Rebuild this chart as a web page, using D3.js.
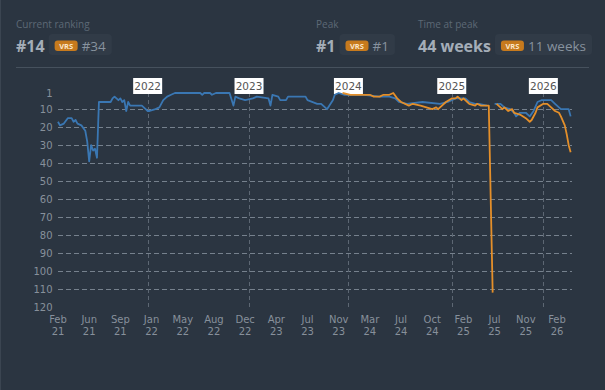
<!DOCTYPE html>
<html>
<head>
<meta charset="utf-8">
<script src="https://cdn.jsdelivr.net/npm/d3@7"></script>
<style>
  html, body { margin: 0; padding: 0; background: #2b3541; }
  svg { display: block; }
</style>
</head>
<body>
<svg id="chart" width="605" height="390"></svg>
<script>
// weekly index (0 = Feb 21) -> rank, null = no data
var blueSeries = [
  [0,17],[1,19],[3,18],[5,15],[7,15],[8,17],[9,16],[10,18],[12,19],[14,22],[15,28],[16,39],[17,30],
  [18,33],[19,32],[20,37],[21,6],[27,6],[28,4],[29,3],[30,4],[31,5],[32,4],[33,6],[34,5],[35,11],
  [36,6],[37,8],[43,8],[45,10],[46,11],[47,11],[50,10],[52,9],[54,5],[56,3],[58,2],[60,1],[73,1],
  [74,2],[75,1],[78,1],[79,2],[81,1],[88,1],[90,8],[91,3],[93,4],[96,5],[100,4],[102,3],[108,4],
  [109,8],[110,2],[113,3],[114,5],[117,5],[118,3],[127,3],[128,5],[133,7],[135,7],[138,10],[141,5],
  [142,2],[144,1],[147,2],[152,2],[157,2],[165,3],[170,3],[173,4],[175,6],[179,7],[187,6],[196,7],
  [200,6],[204,4],[206,4],[209,4],[211,6],[214,7],[216,7],[220,8],[222,null],[224,7],[227,7],[229,9],
  [232,10],[234,12],[235,14],[237,12],[240,12],[242,14],[244,11],[246,6],[248,5],[253,5],[255,7],
  [258,10],[262,10],[263,14]
];
var vrsSeries = [
  [146,1],[150,2],[155,2],[160,2],[162,3],[165,3],[167,2],[170,2],[172,1],[174,4],[176,6],[180,8],
  [182,7],[186,8],[189,9],[192,10],[194,9],[195,10],[197,8],[199,6],[202,4],[204,4],[205,3],[207,5],
  [208,4],[210,6],[211,7],[214,8],[215,7],[217,8],[221,8],[223,112],[224,null],[225,7],[226,8],
  [228,10],[229,9],[231,11],[233,10],[234,12],[237,13],[240,15],[242,17],[243,16],[245,12],[246,9],
  [249,7],[251,7],[253,9],[255,11],[257,12],[258,14],[260,19],[261,24],[262,30],[263,34]
];

var tickWeeks = [0,16,32,48,64,80,96,112,128,144,160,176,192,208,224,240,256];
var tickMonths = ['Feb','Jun','Sep','Jan','May','Aug','Dec','Apr','Jul','Nov','Mar','Jul','Oct','Feb','Jul','Nov','Feb'];
var tickYears = ['21','21','21','22','22','22','22','23','23','23','24','24','24','25','25','25','26'];
var yearWeeks = [46, 98, 149, 202, 249];
var yearLabels = ['2022','2023','2024','2025','2026'];
var rankTicks = [1,10,20,30,40,50,60,70,80,90,100,110,120];

var stats = [
  {label: 'Current ranking', main: '#14', other: '#34', x: 16},
  {label: 'Peak', main: '#1', other: '#1', x: 316},
  {label: 'Time at peak', main: '44 weeks', other: '11 weeks', x: 418}
];

var svg = d3.select('#chart');
var x = d3.scaleLinear().domain([0, 256]).range([58, 557]);
var y = d3.scaleLinear().domain([1, 120]).range([93, 307]);

svg.append('line')
  .attr('x1', 0.5).attr('x2', 0.5).attr('y1', 0).attr('y2', 390)
  .attr('stroke', '#3b4551');

// header stats
stats.forEach(function(s) {
  var g = svg.append('g');
  g.append('text')
    .attr('x', s.x).attr('y', 27.5)
    .attr('font-family', 'Open Sans').attr('font-size', 10)
    .attr('fill', '#5d6976')
    .text(s.label);
  var main = g.append('text')
    .attr('x', s.x).attr('y', 52)
    .attr('font-family', 'Open Sans').attr('font-weight', 'bold').attr('font-size', 16)
    .attr('fill', '#a4adb8')
    .text(s.main);
  var bx = s.x + main.node().getComputedTextLength() + 4;
  var box = g.append('rect')
    .attr('x', bx).attr('y', 34).attr('height', 21).attr('rx', 4)
    .attr('fill', '#313b47');
  g.append('rect')
    .attr('x', bx + 6).attr('y', 40.5).attr('width', 23).attr('height', 10.5).attr('rx', 3)
    .attr('fill', '#c77a1d');
  g.append('text')
    .attr('x', bx + 17.5).attr('y', 48.5).attr('text-anchor', 'middle')
    .attr('font-family', 'Open Sans').attr('font-weight', 'bold').attr('font-size', 7.5)
    .attr('fill', '#fbe6c8')
    .text('VRS');
  var other = g.append('text')
    .attr('x', bx + 33).attr('y', 50.5)
    .attr('font-family', 'Open Sans').attr('font-size', 13.5)
    .attr('fill', '#87929e')
    .text(s.other);
  box.attr('width', 33 + other.node().getComputedTextLength() + 6);
});

svg.append('line')
  .attr('x1', 16).attr('x2', 589).attr('y1', 67.5).attr('y2', 67.5)
  .attr('stroke', '#46515d');

// grid
svg.append('g').selectAll('line')
  .data(rankTicks.filter(function(d){ return d >= 10 && d <= 110; }))
  .enter().append('line')
  .attr('x1', x(0)).attr('x2', 572)
  .attr('y1', function(d){ return Math.round(y(d)) + 0.5; })
  .attr('y2', function(d){ return Math.round(y(d)) + 0.5; })
  .attr('stroke', '#76818d').attr('stroke-dasharray', '5,3');

svg.append('g').selectAll('text')
  .data(rankTicks)
  .enter().append('text')
  .attr('x', 52.5).attr('y', function(d){ return y(d) + 3.5; })
  .attr('text-anchor', 'end')
  .attr('font-family', 'DejaVu Sans').attr('font-size', 10)
  .attr('fill', '#87909b')
  .text(function(d){ return d; });

var xl = svg.append('g').selectAll('text')
  .data(tickWeeks)
  .enter().append('text')
  .attr('text-anchor', 'middle')
  .attr('font-family', 'DejaVu Sans').attr('font-size', 10)
  .attr('fill', '#87909b');
xl.append('tspan')
  .attr('x', function(d){ return x(d); }).attr('y', 322.5)
  .text(function(d, i){ return tickMonths[i]; });
xl.append('tspan')
  .attr('x', function(d){ return x(d); }).attr('y', 334.5)
  .text(function(d, i){ return tickYears[i]; });

// year markers
var yg = svg.append('g').selectAll('g')
  .data(yearWeeks)
  .enter().append('g');
yg.append('line')
  .attr('x1', function(d){ return Math.round(x(d)) + 0.5; })
  .attr('x2', function(d){ return Math.round(x(d)) + 0.5; })
  .attr('y1', 86).attr('y2', 308)
  .attr('stroke', '#5d6773').attr('stroke-dasharray', '4,3');

// lines
var line = d3.line()
  .defined(function(d){ return d[1] !== null; })
  .x(function(d){ return x(d[0]); })
  .y(function(d){ return y(d[1]); });

svg.append('path')
  .datum(blueSeries)
  .attr('d', line)
  .attr('fill', 'none')
  .attr('stroke', '#3a77b3')
  .attr('stroke-width', 1.8)
  .attr('stroke-linejoin', 'round');

svg.append('path')
  .datum(vrsSeries)
  .attr('d', line)
  .attr('fill', 'none')
  .attr('stroke', '#e48f2a')
  .attr('stroke-width', 1.8)
  .attr('stroke-linejoin', 'round');

yg.append('rect')
  .attr('x', function(d){ return x(d) - 14.5; })
  .attr('y', 78).attr('width', 29).attr('height', 16)
  .attr('fill', '#ffffff');
yg.append('text')
  .attr('x', function(d){ return x(d); }).attr('y', 90)
  .attr('text-anchor', 'middle')
  .attr('font-family', 'DejaVu Sans').attr('font-size', 10.5)
  .attr('fill', '#555')
  .text(function(d, i){ return yearLabels[i]; });
</script>
</body>
</html>
